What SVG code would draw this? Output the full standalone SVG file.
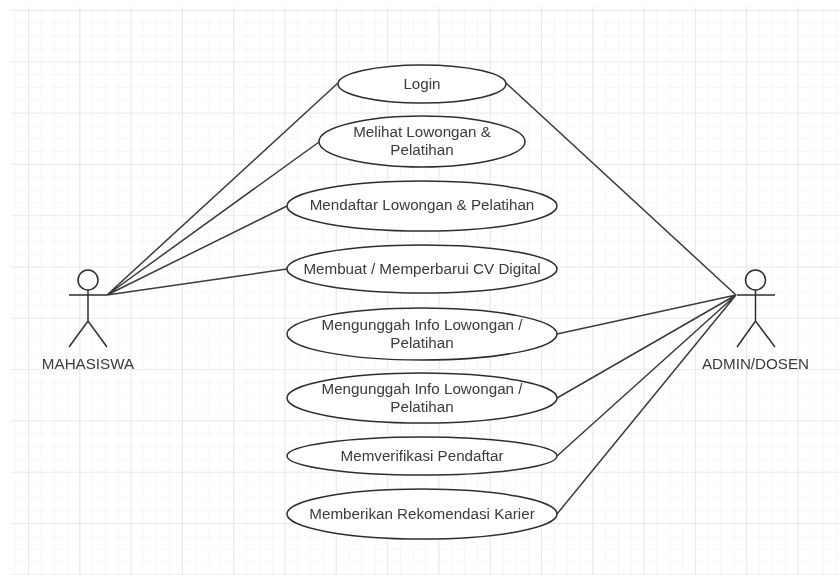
<svg xmlns="http://www.w3.org/2000/svg" width="840" height="575" viewBox="0 0 840 575">
<style>
.u{fill:#fff;stroke:#2e2e2e;stroke-width:1.5}
.a{fill:none;stroke:#2e2e2e;stroke-width:1.5}
.c{fill:none;stroke:#3a3a3a;stroke-width:1.5}
text{font-family:"Liberation Sans",Arial,sans-serif;font-size:15.2px;fill:#3a3a3a;text-anchor:middle}
</style>
<defs>
<filter id="soft" x="0" y="0" width="100%" height="100%"><feGaussianBlur stdDeviation="0.35"/></filter>
<pattern id="minor" width="12.825" height="12.825" patternUnits="userSpaceOnUse" x="3.35" y="-1.85"><path d="M12.825 0V12.825M0 12.825H12.825" fill="none" stroke="#f7f7f7" stroke-width="1.8"/></pattern>
<pattern id="major" width="51.3" height="51.3" patternUnits="userSpaceOnUse" x="-22.3" y="11"><path d="M51.3 0V51.3M0 51.3H51.3" fill="none" stroke="#dedede" stroke-width="1.2"/></pattern>
</defs>
<rect width="840" height="575" fill="#fff"/>
<g filter="url(#soft)">
<g id="grid"><rect x="11" y="7" width="829" height="568" fill="url(#minor)"/><rect x="11" y="7" width="829" height="568" fill="url(#major)"/></g>
<g id="connectors">
<path class="c" d="M107 295L338 83M107 295L319 142M107 295L287 206M107 295L287 269M736 295L506 83M736 295L557 334M736 295L557 398M736 295L557 456M736 295L557 514"/>
</g>
<g id="actor-mahasiswa"><circle class="a" cx="88" cy="280" r="10"/><path class="a" d="M88 290V321M69 295H107M69 347L88 321L107 347"/><text x="88" y="368.5">MAHASISWA</text></g>
<g id="actor-admin"><circle class="a" cx="755.5" cy="280" r="10"/><path class="a" d="M755.5 290V321M737 295H775M737 347L755.5 321L775 347"/><text x="755.5" y="368.5">ADMIN/DOSEN</text></g>
<g id="uc-login"><ellipse class="u" cx="422" cy="84" rx="84" ry="19"/><text x="422" y="88.5">Login</text></g>
<g id="uc-melihat"><ellipse class="u" cx="422" cy="141.5" rx="103" ry="25.5"/><text x="422" y="137">Melihat Lowongan &amp;</text><text x="422" y="155">Pelatihan</text></g>
<g id="uc-mendaftar"><ellipse class="u" cx="422" cy="206" rx="135" ry="25"/><text x="422" y="210">Mendaftar Lowongan &amp; Pelatihan</text></g>
<g id="uc-cv"><ellipse class="u" cx="422" cy="269" rx="135" ry="24"/><text x="422" y="274">Membuat / Memperbarui CV Digital</text></g>
<g id="uc-unggah1"><ellipse class="u" cx="422" cy="334" rx="135" ry="26"/><text x="422" y="330">Mengunggah Info Lowongan /</text><text x="422" y="348">Pelatihan</text></g>
<g id="uc-unggah2"><ellipse class="u" cx="422" cy="398" rx="135" ry="25"/><text x="422" y="394">Mengunggah Info Lowongan /</text><text x="422" y="412">Pelatihan</text></g>
<g id="uc-verifikasi"><ellipse class="u" cx="422" cy="456" rx="135" ry="19"/><text x="422" y="461">Memverifikasi Pendaftar</text></g>
<g id="uc-rekomendasi"><ellipse class="u" cx="422" cy="514" rx="135" ry="25"/><text x="422" y="518.5">Memberikan Rekomendasi Karier</text></g>
</g>
</svg>
